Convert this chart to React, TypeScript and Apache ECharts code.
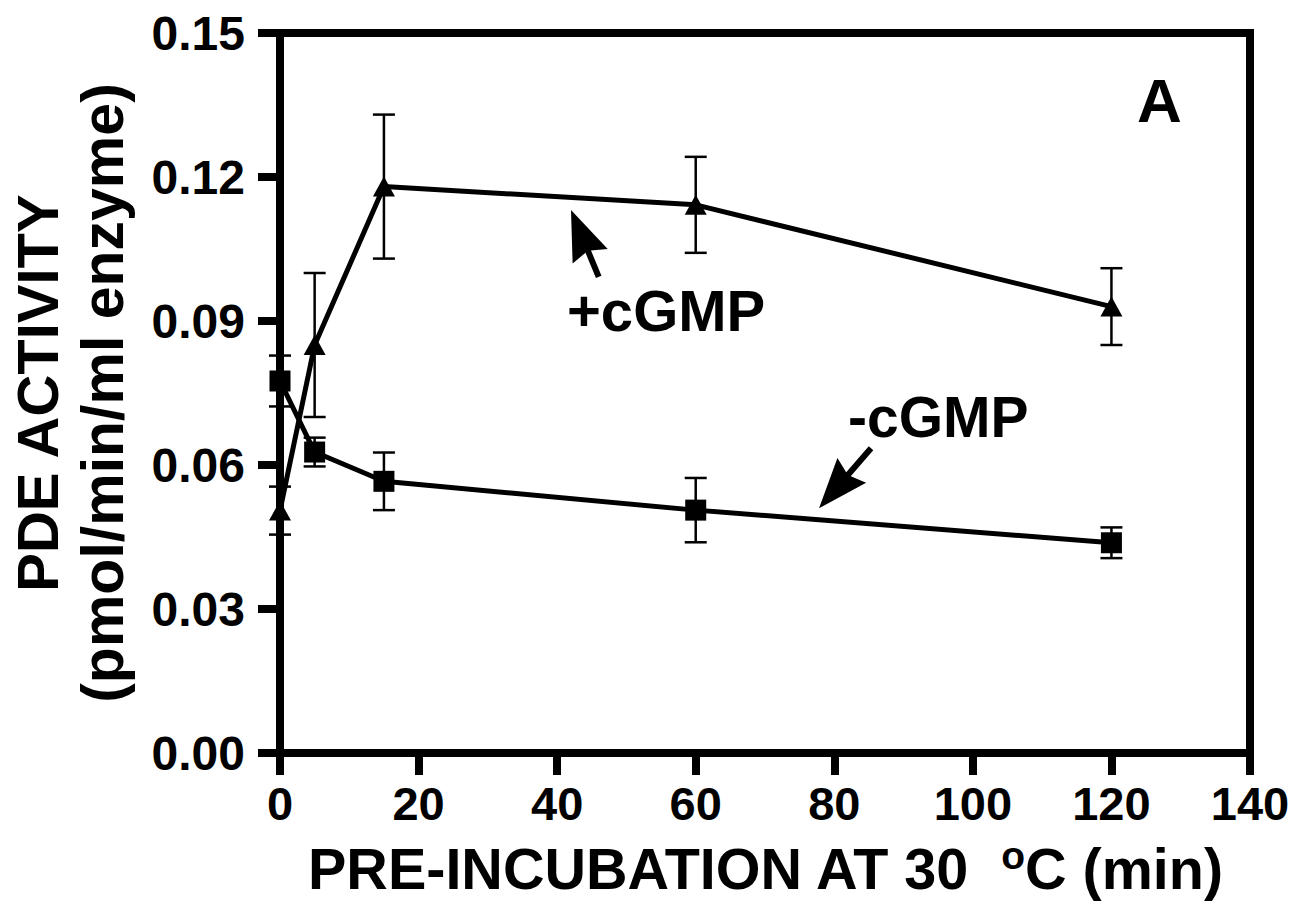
import React, { useEffect, useRef } from "react";
import * as echarts from "echarts";

// Pre-incubation time (min)
const timesMin = [0, 5, 15, 60, 120];
// +cGMP (triangles)
const plusCGMP = [0.0505, 0.085, 0.118, 0.1142, 0.093];
const plusErr = [0.005, 0.015, 0.015, 0.01, 0.008];
// -cGMP (squares)
const minusCGMP = [0.0775, 0.0627, 0.0566, 0.0506, 0.0438];
const minusErr = [0.0053, 0.003, 0.006, 0.0067, 0.0032];

const xTicks = { min: 0, max: 140, interval: 20 };
const yTicks = { min: 0, max: 0.15, interval: 0.03 };

// annotation arrows: [tailX, tailY, tipX, tipY] in data units
const arrowPlus = [46.0, 0.0992, 42.0, 0.1131];
const arrowMinus = [85.3, 0.0635, 77.8, 0.051];

const FONT = "'Liberation Sans', Arial, Helvetica, sans-serif";

export default function App() {
  const ref = useRef<HTMLDivElement>(null);

  useEffect(() => {
    if (!ref.current) return;
    const chart = echarts.init(ref.current, undefined, { renderer: "svg" });

    const plusData = timesMin.map((t, i) => [t, plusCGMP[i]]);
    const minusData = timesMin.map((t, i) => [t, minusCGMP[i]]);
    const errData = [
      ...timesMin.map((t, i) => [t, plusCGMP[i] - plusErr[i], plusCGMP[i] + plusErr[i]]),
      ...timesMin.map((t, i) => [t, minusCGMP[i] - minusErr[i], minusCGMP[i] + minusErr[i]]),
    ];

    const option: any = {
      animation: false,
      backgroundColor: "#ffffff",
      grid: {
        left: 278,
        right: 52,
        top: 33,
        bottom: 158,
        show: true,
        borderColor: "#000",
        borderWidth: 8,
        backgroundColor: "transparent",
      },
      xAxis: {
        type: "value",
        min: xTicks.min,
        max: xTicks.max,
        interval: xTicks.interval,
        name: "PRE-INCUBATION AT 30  {sup|o}C (min)",
        nameLocation: "middle",
        nameGap: 83,
        nameTextStyle: {
          fontFamily: FONT,
          fontWeight: "bold",
          fontSize: 57.5,
          color: "#000",
          lineHeight: 66,
          rich: {
            sup: {
              fontFamily: FONT,
              fontWeight: "bold",
              fontSize: 39,
              lineHeight: 44,
              verticalAlign: "top",
              color: "#000",
            },
          },
        },
        axisLine: { show: true, lineStyle: { color: "#000", width: 8 } },
        axisTick: { show: true, length: 22, lineStyle: { color: "#000", width: 8 } },
        axisLabel: {
          fontFamily: FONT,
          fontWeight: "bold",
          fontSize: 47,
          color: "#000",
          margin: 27,
        },
        splitLine: { show: false },
      },
      yAxis: {
        type: "value",
        min: yTicks.min,
        max: yTicks.max,
        interval: yTicks.interval,
        name: "{a|PDE ACTIVITY}\n{b|(pmol/min/ml enzyme)}",
        nameLocation: "middle",
        nameRotate: 90,
        nameGap: 144,
        nameTextStyle: {
          fontFamily: FONT,
          fontWeight: "bold",
          color: "#000",
          rich: {
            a: { fontFamily: FONT, fontWeight: "bold", fontSize: 58, lineHeight: 66, color: "#000" },
            b: { fontFamily: FONT, fontWeight: "bold", fontSize: 59, lineHeight: 66, color: "#000" },
          },
        },
        axisLine: { show: true, lineStyle: { color: "#000", width: 8 } },
        axisTick: { show: true, length: 22, lineStyle: { color: "#000", width: 8 } },
        axisLabel: {
          fontFamily: FONT,
          fontWeight: "bold",
          fontSize: 48,
          color: "#000",
          margin: 35,
          formatter: (v: number) => v.toFixed(2),
        },
        splitLine: { show: false },
      },
      series: [
        {
          name: "error bars",
          type: "custom",
          data: errData,
          clip: false,
          z: 3,
          renderItem: (params: any, api: any) => {
            const x = api.value(0);
            const lo = api.coord([x, api.value(1)]);
            const hi = api.coord([x, api.value(2)]);
            const half = 11;
            const style = { stroke: "#000", lineWidth: 2.5 };
            return {
              type: "group",
              children: [
                { type: "line", shape: { x1: lo[0], y1: lo[1], x2: hi[0], y2: hi[1] }, style },
                { type: "line", shape: { x1: hi[0] - half, y1: hi[1], x2: hi[0] + half, y2: hi[1] }, style },
                { type: "line", shape: { x1: lo[0] - half, y1: lo[1], x2: lo[0] + half, y2: lo[1] }, style },
              ],
            };
          },
        },
        {
          name: "+cGMP",
          type: "line",
          data: plusData,
          clip: false,
          z: 5,
          symbol: "triangle",
          symbolSize: [22, 20],
          lineStyle: { color: "#000", width: 5 },
          itemStyle: { color: "#000" },
        },
        {
          name: "-cGMP",
          type: "line",
          data: minusData,
          clip: false,
          z: 5,
          symbol: "rect",
          symbolSize: 21,
          lineStyle: { color: "#000", width: 5 },
          itemStyle: { color: "#000" },
        },
        {
          name: "arrows",
          type: "custom",
          data: [arrowPlus, arrowMinus],
          clip: false,
          z: 6,
          renderItem: (params: any, api: any) => {
            const tail = api.coord([api.value(0), api.value(1)]);
            const tip = api.coord([api.value(2), api.value(3)]);
            const dx = tip[0] - tail[0];
            const dy = tip[1] - tail[1];
            const len = Math.sqrt(dx * dx + dy * dy);
            const ux = dx / len;
            const uy = dy / len;
            const headLen = 50;
            const headHalf = 19;
            const bx = tip[0] - ux * headLen;
            const by = tip[1] - uy * headLen;
            const px = -uy;
            const py = ux;
            return {
              type: "group",
              children: [
                {
                  type: "line",
                  shape: { x1: tail[0], y1: tail[1], x2: bx + ux * 10, y2: by + uy * 10 },
                  style: { stroke: "#000", lineWidth: 6 },
                },
                {
                  type: "polygon",
                  shape: {
                    points: [
                      [tip[0], tip[1]],
                      [bx + px * headHalf, by + py * headHalf],
                      [bx + ux * 6, by + uy * 6],
                      [bx - px * headHalf, by - py * headHalf],
                    ],
                  },
                  style: { fill: "#000" },
                },
              ],
            };
          },
        },
      ],
      graphic: [
        {
          type: "text",
          x: 1137,
          y: 100,
          style: {
            text: "A",
            fontFamily: FONT,
            fontWeight: "bold",
            fontSize: 62,
            fill: "#000",
            align: "left",
            verticalAlign: "middle",
          },
        },
        {
          type: "text",
          x: 567,
          y: 310,
          style: {
            text: "+cGMP",
            fontFamily: FONT,
            fontWeight: "bold",
            fontSize: 58,
            fill: "#000",
            align: "left",
            verticalAlign: "middle",
          },
        },
        {
          type: "text",
          x: 848,
          y: 417,
          style: {
            text: "-cGMP",
            fontFamily: FONT,
            fontWeight: "bold",
            fontSize: 57,
            fill: "#000",
            align: "left",
            verticalAlign: "middle",
          },
        },
      ],
    };

    chart.setOption(option);
    return () => {
      chart.dispose();
    };
  }, []);

  return (
    <div
      ref={ref}
      style={{ position: "fixed", left: 0, top: 0, width: 1302, height: 911, background: "#fff" }}
    />
  );
}
